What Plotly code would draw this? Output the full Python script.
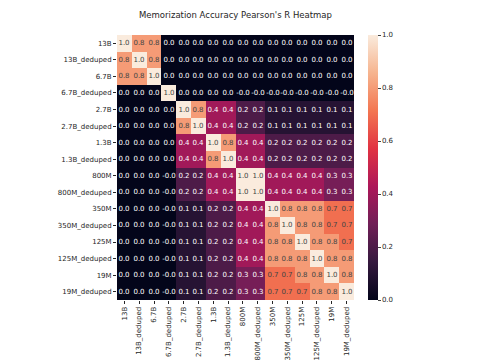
import plotly.graph_objects as go

labels = ["13B", "13B_deduped", "6.7B", "6.7B_deduped", "2.7B", "2.7B_deduped",
          "1.3B", "1.3B_deduped", "800M", "800M_deduped", "350M", "350M_deduped",
          "125M", "125M_deduped", "19M", "19M_deduped"]

n0 = -0.01
r_13B      = [1.0, 0.8, 0.8, 0.0, 0.0, 0.0, 0.0, 0.0, 0.0, 0.0, 0.0, 0.0, 0.0, 0.0, 0.0, 0.0]
r_13B_d    = [0.8, 1.0, 0.8, 0.0, 0.0, 0.0, 0.0, 0.0, 0.0, 0.0, 0.0, 0.0, 0.0, 0.0, 0.0, 0.0]
r_6_7B     = [0.8, 0.8, 1.0, 0.0, 0.0, 0.0, 0.0, 0.0, 0.0, 0.0, 0.0, 0.0, 0.0, 0.0, 0.0, 0.0]
r_6_7B_d   = [0.0, 0.0, 0.0, 1.0, 0.0, 0.0, 0.0, 0.0, n0, n0, n0, n0, n0, n0, n0, n0]
r_2_7B     = [0.0, 0.0, 0.0, 0.0, 1.0, 0.8, 0.4, 0.4, 0.2, 0.2, 0.1, 0.1, 0.1, 0.1, 0.1, 0.1]
r_2_7B_d   = [0.0, 0.0, 0.0, 0.0, 0.8, 1.0, 0.4, 0.4, 0.2, 0.2, 0.1, 0.1, 0.1, 0.1, 0.1, 0.1]
r_1_3B     = [0.0, 0.0, 0.0, 0.0, 0.4, 0.4, 1.0, 0.8, 0.4, 0.4, 0.2, 0.2, 0.2, 0.2, 0.2, 0.2]
r_1_3B_d   = [0.0, 0.0, 0.0, 0.0, 0.4, 0.4, 0.8, 1.0, 0.4, 0.4, 0.2, 0.2, 0.2, 0.2, 0.2, 0.2]
r_800M     = [0.0, 0.0, 0.0, n0, 0.2, 0.2, 0.4, 0.4, 1.0, 1.0, 0.4, 0.4, 0.4, 0.4, 0.3, 0.3]
r_800M_d   = [0.0, 0.0, 0.0, n0, 0.2, 0.2, 0.4, 0.4, 1.0, 1.0, 0.4, 0.4, 0.4, 0.4, 0.3, 0.3]
r_350M     = [0.0, 0.0, 0.0, n0, 0.1, 0.1, 0.2, 0.2, 0.4, 0.4, 1.0, 0.8, 0.8, 0.8, 0.7, 0.7]
r_350M_d   = [0.0, 0.0, 0.0, n0, 0.1, 0.1, 0.2, 0.2, 0.4, 0.4, 0.8, 1.0, 0.8, 0.8, 0.7, 0.7]
r_125M     = [0.0, 0.0, 0.0, n0, 0.1, 0.1, 0.2, 0.2, 0.4, 0.4, 0.8, 0.8, 1.0, 0.8, 0.8, 0.7]
r_125M_d   = [0.0, 0.0, 0.0, n0, 0.1, 0.1, 0.2, 0.2, 0.4, 0.4, 0.8, 0.8, 0.8, 1.0, 0.8, 0.8]
r_19M      = [0.0, 0.0, 0.0, n0, 0.1, 0.1, 0.2, 0.2, 0.3, 0.3, 0.7, 0.7, 0.8, 0.8, 1.0, 0.8]
r_19M_d    = [0.0, 0.0, 0.0, n0, 0.1, 0.1, 0.2, 0.2, 0.3, 0.3, 0.7, 0.7, 0.7, 0.8, 0.8, 1.0]

z = [r_13B, r_13B_d, r_6_7B, r_6_7B_d, r_2_7B, r_2_7B_d, r_1_3B, r_1_3B_d,
     r_800M, r_800M_d, r_350M, r_350M_d, r_125M, r_125M_d, r_19M, r_19M_d]
text = [[f"{v:.1f}" for v in row] for row in z]

rocket = [
    [0.0, "#03051a"], [0.143, "#35193e"], [0.286, "#701f57"], [0.429, "#ad1759"],
    [0.571, "#e13342"], [0.714, "#f37651"], [0.857, "#f6b48f"], [1.0, "#faebdd"],
]

fig = go.Figure(go.Heatmap(
    z=z, x=labels, y=labels, text=text, texttemplate="%{text}",
    textfont=dict(size=7),
    colorscale=rocket, zmin=0, zmax=1, xgap=0, ygap=0,
    colorbar=dict(thickness=10, len=1.0, lenmode="fraction", y=0.5, yanchor="middle",
                  x=1.059, xanchor="left", xpad=0, ypad=0, outlinewidth=0,
                  tickvals=[0, 0.2, 0.4, 0.6, 0.8, 1.0], ticktext=["0.0", "0.2", "0.4", "0.6", "0.8", "1.0"],
                  ticks="outside", ticklen=3, tickfont=dict(size=7, color="#262626")),
))

fig.update_layout(
    width=472, height=352,
    margin=dict(l=109, r=126, t=27, b=60, autoexpand=False),
    paper_bgcolor="white", plot_bgcolor="white",
    font=dict(family="DejaVu Sans", color="#262626"),
    title=dict(text="Memorization Accuracy Pearson's R Heatmap", x=0.5, xanchor="center",
               xref="paper", y=1.0, yref="container", yanchor="top",
               pad=dict(t=4, b=0, l=0, r=0), font=dict(size=8.5)),
)
fig.update_xaxes(tickangle=-90, tickfont=dict(size=7), showgrid=False, ticks="outside", ticklen=3,
                 tickcolor="#262626", automargin=False)
fig.update_yaxes(autorange="reversed", tickfont=dict(size=7), showgrid=False, ticks="outside", ticklen=3,
                 tickcolor="#262626", automargin=False)

fig.write_html("out.html")
